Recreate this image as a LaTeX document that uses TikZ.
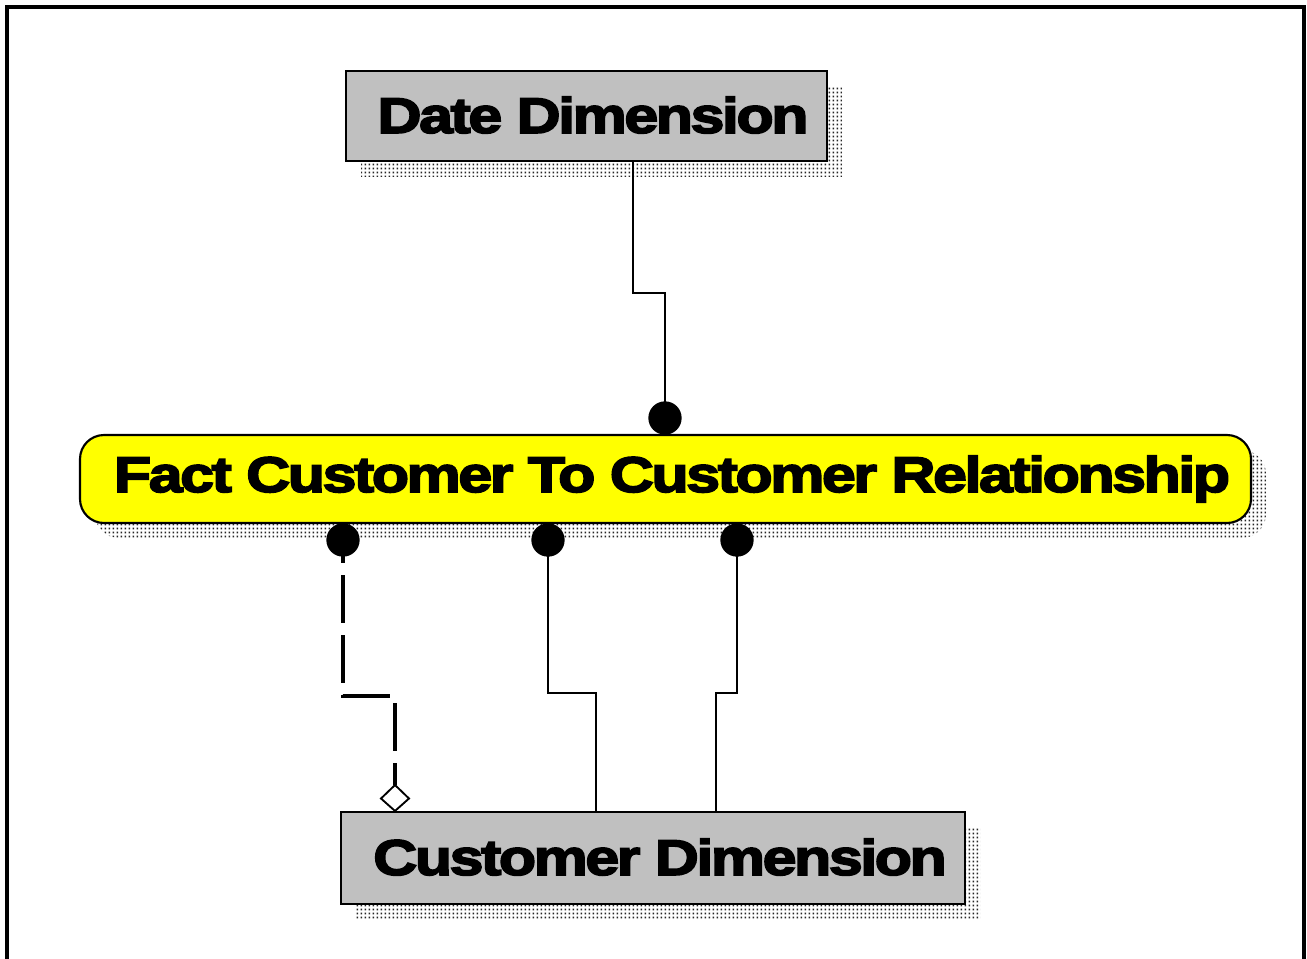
\documentclass[tikz,border=0pt]{standalone}
\usepackage{fontspec}
\newfontfamily\heavy{Liberation Sans}[LetterSpace=-5, FakeStretch=1.22, BoldFeatures={FakeBold=3.5}]
\usetikzlibrary{patterns,arrows.meta,calc}
\definecolor{boxgray}{RGB}{192,192,192}
\definecolor{factyellow}{RGB}{255,255,0}
\pgfdeclarepatternformonly{shadowdots}{\pgfqpoint{0pt}{0pt}}{\pgfqpoint{3pt}{3pt}}{\pgfqpoint{3pt}{3pt}}{%
  \pgfpathrectangle{\pgfqpoint{0.6pt}{0.6pt}}{\pgfqpoint{1.5pt}{1.5pt}}\pgfusepath{fill}}
\begin{document}
\begin{tikzpicture}[x=0.75pt,y=-0.75pt,
  dimbox/.style={draw=black,line width=1.6pt,fill=boxgray,rectangle,inner sep=0pt},
  factbox/.style={draw=black,line width=1.6pt,fill=factyellow,rectangle,rounded corners=18pt,inner sep=0pt},
  shadowfill/.style={pattern=shadowdots,pattern color=black!85},
  lbl/.style={font=\heavy\bfseries\fontsize{37.5pt}{40pt}\selectfont},
  link/.style={draw=black,line width=1.5pt},
  dashlink/.style={draw=black,line width=3pt,dash pattern=on 36pt off 9pt,dash phase=18.75pt},
  dotend/.style={circle,fill=black,minimum size=25pt,inner sep=0pt}
]
\useasboundingbox (0,0) rectangle (1307,958);
\clip (0,0) rectangle (1307,958);
\fill[white] (0,0) rectangle (1307,958);
% frame
\draw[line width=2.3pt] (7,970) -- (7,7) -- (1304,7) -- (1304,970);

% shadows
\fill[shadowfill] (361,86) rectangle (842,176);
\fill[shadowfill,rounded corners=18pt] (95,450) rectangle (1266,538);
\fill[shadowfill] (356,827) rectangle (980,919);

% nodes
\node[dimbox,minimum width=360.75pt,minimum height=67.5pt] (date) at (586.5,116) {};
\node[lbl] (datet) at (593,115) {Date Dimension};
\node[factbox,minimum width=878.25pt,minimum height=66pt] (fact) at (665.5,479) {};
\node[lbl] (factt) at (672,479) {Fact Customer To Customer Relationship};
\node[dimbox,minimum width=468pt,minimum height=69pt] (cust) at (653,858) {};
\node[lbl] (custt) at (660,857) {Customer Dimension};

% connector dots
\node[dotend] (d0) at (665,418) {};
\node[dotend] (d1) at (343,540) {};
\node[dotend] (d2) at (548,540) {};
\node[dotend] (d3) at (737,540) {};

% connectors
\draw[link] (date.south -| 633,0) |- (665,293) -- (d0.center);
\draw[link] (d2.center) -- (548,693) -| (cust.north -| 596,0);
\draw[link] (d3.center) -- (737,693) -| (cust.north -| 716,0);
\draw[dashlink] (d1.center) -- (343,696) -| (395,785);
\draw[line width=1.4pt,fill=white] (395,785) -- (409,798.5) -- (cust.north -| 395,0) -- (381,798.5) -- cycle;
\end{tikzpicture}
\end{document}
